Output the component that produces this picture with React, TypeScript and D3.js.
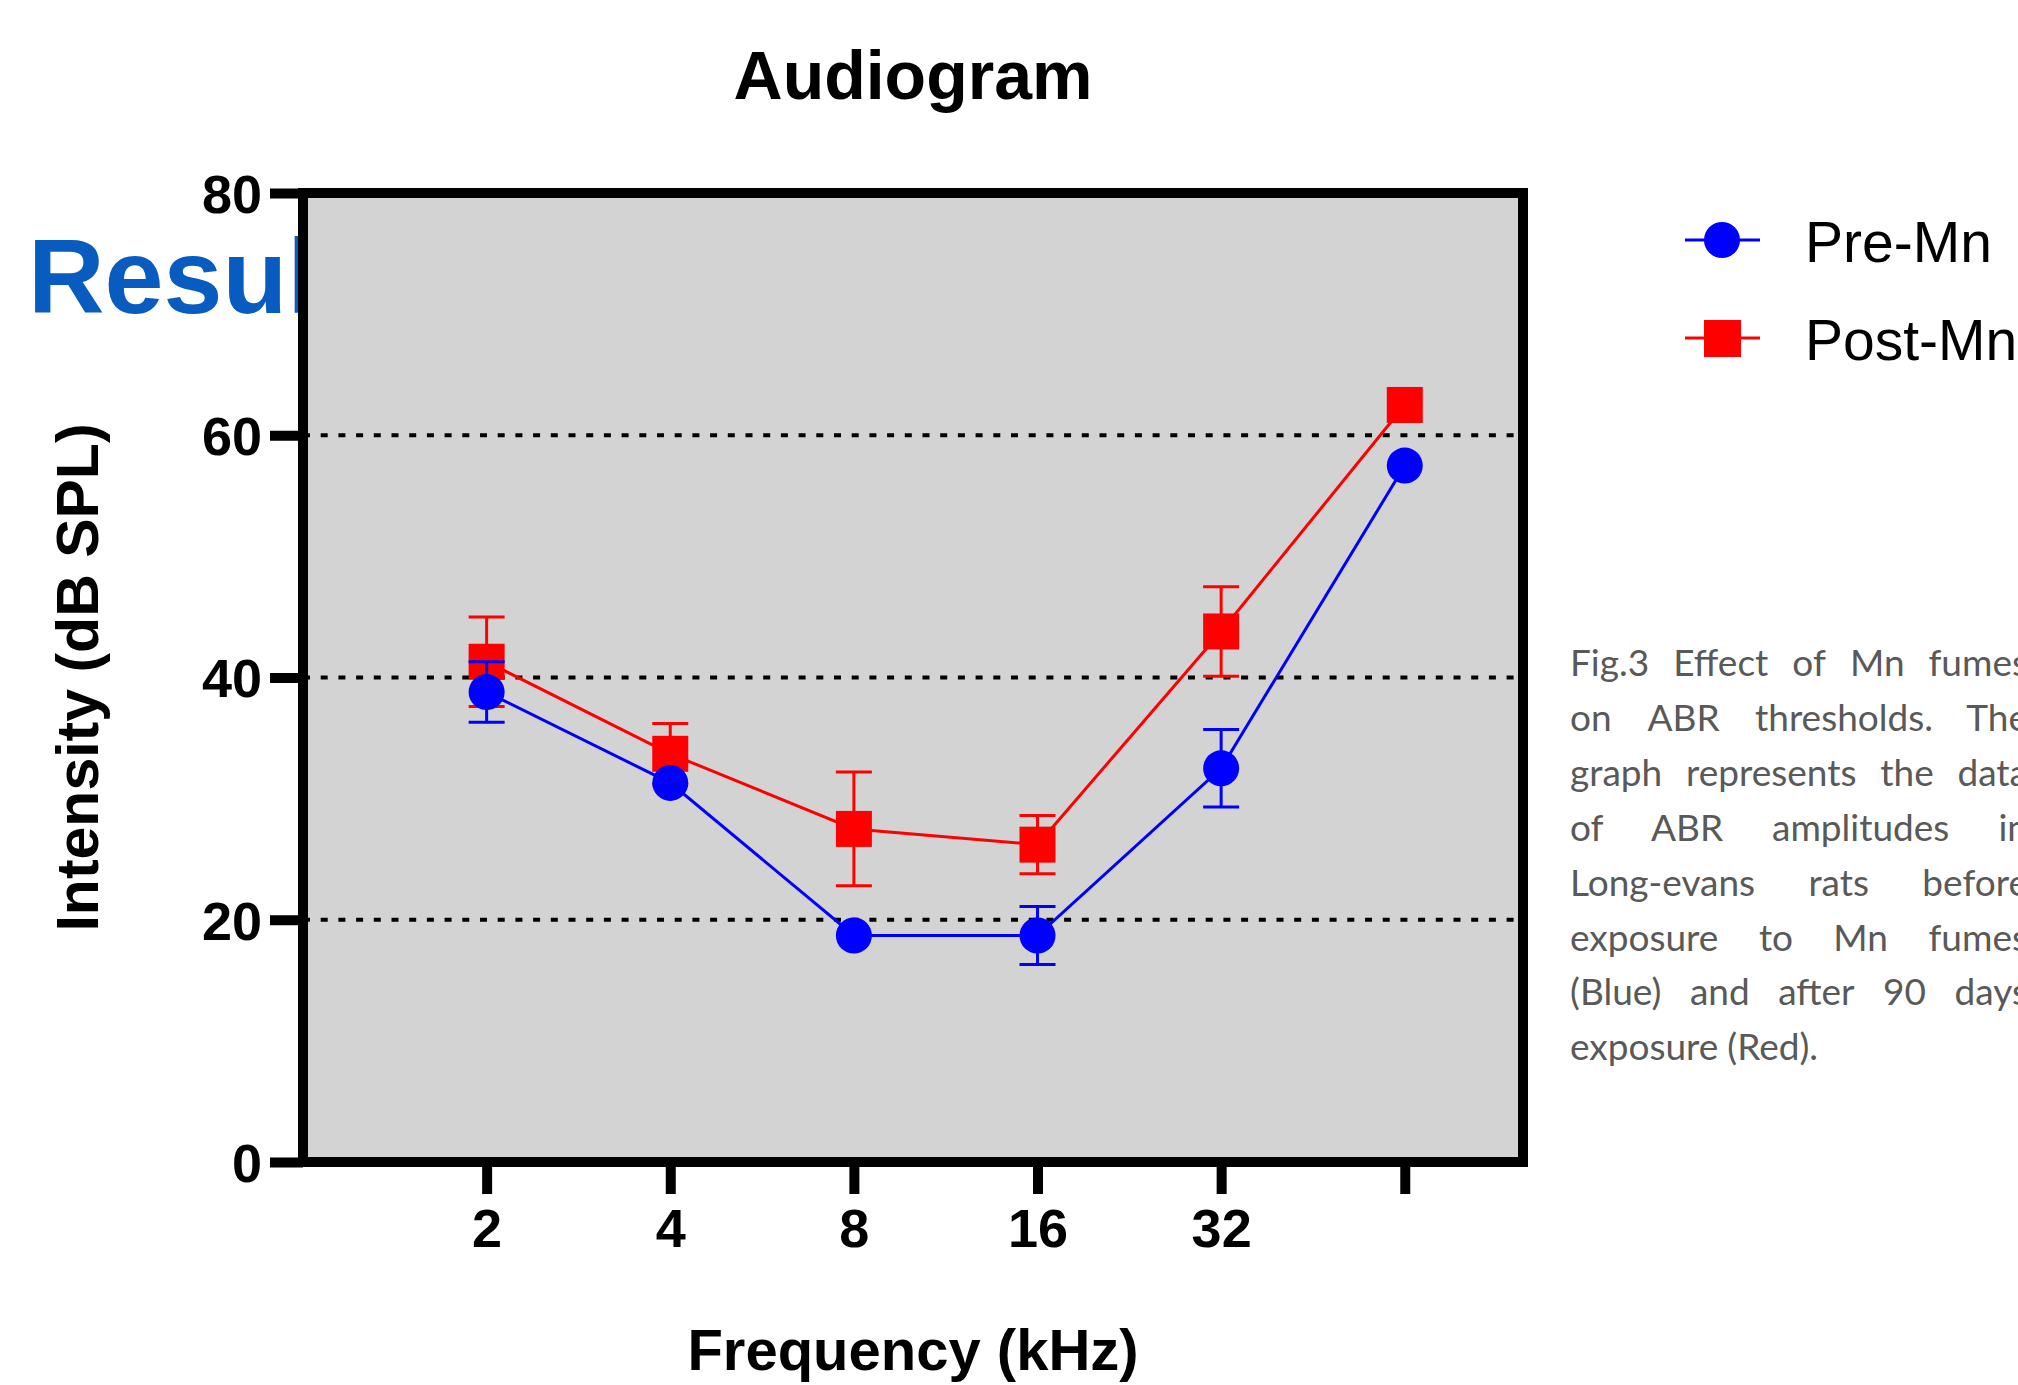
import React, { useRef, useEffect } from 'react'
import * as d3 from 'd3'

// values
const frequencies = [2, 4, 8, 16, 32, 64]
const xTickLabels = ['2', '4', '8', '16', '32', '']
const yTicks = [0, 20, 40, 60, 80]
const gridValues = [20, 40, 60]
const preMean = [38.8, 31.3, 18.7, 18.7, 32.5, 57.5]
const preErr = [2.5, 0, 0, 2.4, 3.2, 0]
const postMean = [41.3, 33.7, 27.5, 26.2, 43.8, 62.5]
const postErr = [3.7, 2.5, 4.7, 2.4, 3.7, 0]
const seriesNames = ['Pre-Mn', 'Post-Mn']
const seriesColors = ['#0000ff', '#ff0000']
const captionLines = [
    'Fig.3 Effect of Mn fumes',
    'on ABR thresholds. The',
    'graph represents the data',
    'of ABR amplitudes in',
    'Long-evans rats before',
    'exposure to Mn fumes',
    '(Blue) and after 90 days',
    'exposure (Red).',
]

const W = 2018
const H = 1385
const FONT = '"Liberation Sans", Arial, sans-serif'

export default function App() {
    const ref = useRef<SVGSVGElement>(null)
    const margin = { top: 193, right: 495, bottom: 223, left: 303 }

    useEffect(() => {
        const svg = d3.select(ref.current)
        svg.selectAll('*').remove()

        const x0 = margin.left
        const x1 = W - margin.right
        const y0 = margin.top
        const y1 = H - margin.bottom

        const x = d3.scaleLog().base(2).domain([1, 100]).range([x0, x1])
        const y = d3.scaleLinear().domain([0, 80]).range([y1, y0])

        // blue heading that sits behind the plot
        svg.append('text')
            .attr('x', 28)
            .attr('y', 313)
            .attr('font-family', FONT)
            .attr('font-weight', 'bold')
            .attr('font-size', 106)
            .attr('fill', '#085cbf')
            .text('Results')

        svg.append('rect')
            .attr('x', x0)
            .attr('y', y0)
            .attr('width', x1 - x0)
            .attr('height', y1 - y0)
            .attr('fill', '#d3d3d3')

        // dotted grid
        svg.append('g')
            .selectAll('line')
            .data(gridValues)
            .join('line')
            .attr('x1', x0)
            .attr('x2', x1 - 5)
            .attr('y1', (d) => y(d))
            .attr('y2', (d) => y(d))
            .attr('stroke', '#000')
            .attr('stroke-width', 4)
            .attr('stroke-dasharray', '7 10.7')

        // axes
        const yAxis = svg.append('g')
            .attr('transform', 'translate(' + x0 + ',0)')
            .call(d3.axisLeft(y).tickValues(yTicks).tickSize(33).tickPadding(8))
        yAxis.select('.domain').remove()
        yAxis.selectAll('line').attr('stroke-width', 10)
        yAxis.selectAll('text')
            .attr('font-family', FONT)
            .attr('font-weight', 'bold')
            .attr('font-size', 54)
            .attr('dy', '0.36em')

        const xAxis = svg.append('g')
            .attr('transform', 'translate(0,' + y1 + ')')
            .call(
                d3.axisBottom(x)
                    .tickValues(frequencies)
                    .tickFormat((d, i) => xTickLabels[i])
                    .tickSize(32)
                    .tickPadding(15)
            )
        xAxis.select('.domain').remove()
        xAxis.selectAll('line').attr('stroke-width', 10)
        xAxis.selectAll('text')
            .attr('font-family', FONT)
            .attr('font-weight', 'bold')
            .attr('font-size', 54)

        svg.append('rect')
            .attr('x', x0)
            .attr('y', y0)
            .attr('width', x1 - x0)
            .attr('height', y1 - y0)
            .attr('fill', 'none')
            .attr('stroke', '#000')
            .attr('stroke-width', 10)

        // series: red first so blue sits on top
        const series = [
            { name: seriesNames[1], color: seriesColors[1], mean: postMean, err: postErr, shape: 'square' },
            { name: seriesNames[0], color: seriesColors[0], mean: preMean, err: preErr, shape: 'circle' },
        ]
        const line = d3.line<number>()
            .x((d, i) => x(frequencies[i]))
            .y((d) => y(d))

        series.forEach((s) => {
            const g = svg.append('g')
            g.append('path')
                .attr('d', line(s.mean))
                .attr('fill', 'none')
                .attr('stroke', s.color)
                .attr('stroke-width', 3)

            const pts = s.mean.map((m, i) => ({ f: frequencies[i], m, e: s.err[i] }))
            const withErr = pts.filter((d) => d.e > 0)
            const eb = g.append('g').attr('stroke', s.color).attr('stroke-width', 3)
            eb.selectAll('.v')
                .data(withErr)
                .join('line')
                .attr('x1', (d) => x(d.f))
                .attr('x2', (d) => x(d.f))
                .attr('y1', (d) => y(d.m + d.e))
                .attr('y2', (d) => y(d.m - d.e))
            ;[1, -1].forEach((sign) => {
                eb.append('g')
                    .selectAll('line')
                    .data(withErr)
                    .join('line')
                    .attr('x1', (d) => x(d.f) - 18)
                    .attr('x2', (d) => x(d.f) + 18)
                    .attr('y1', (d) => y(d.m + sign * d.e))
                    .attr('y2', (d) => y(d.m + sign * d.e))
            })

            if (s.shape === 'circle') {
                g.append('g')
                    .selectAll('circle')
                    .data(pts)
                    .join('circle')
                    .attr('cx', (d) => x(d.f))
                    .attr('cy', (d) => y(d.m))
                    .attr('r', 18)
                    .attr('fill', s.color)
            } else {
                g.append('g')
                    .selectAll('rect')
                    .data(pts)
                    .join('rect')
                    .attr('x', (d) => x(d.f) - 18)
                    .attr('y', (d) => y(d.m) - 18)
                    .attr('width', 36)
                    .attr('height', 36)
                    .attr('fill', s.color)
            }
        })

        // titles
        svg.append('text')
            .attr('x', (x0 + x1) / 2)
            .attr('y', 99)
            .attr('text-anchor', 'middle')
            .attr('font-family', FONT)
            .attr('font-weight', 'bold')
            .attr('font-size', 68)
            .text('Audiogram')

        svg.append('text')
            .attr('x', (x0 + x1) / 2)
            .attr('y', 1370)
            .attr('text-anchor', 'middle')
            .attr('font-family', FONT)
            .attr('font-weight', 'bold')
            .attr('font-size', 58)
            .text('Frequency (kHz)')

        svg.append('text')
            .attr('transform', 'translate(98,' + (y0 + y1) / 2 + ') rotate(-90)')
            .attr('text-anchor', 'middle')
            .attr('font-family', FONT)
            .attr('font-weight', 'bold')
            .attr('font-size', 59)
            .text('Intensity (dB SPL)')

        // legend
        const legend = svg.append('g')
        seriesNames.forEach((name, i) => {
            const ly = 240 + i * 98
            const c = seriesColors[i]
            legend.append('line')
                .attr('x1', 1685).attr('x2', 1760)
                .attr('y1', ly).attr('y2', ly)
                .attr('stroke', c).attr('stroke-width', 3)
            if (i === 0) {
                legend.append('circle').attr('cx', 1722).attr('cy', ly).attr('r', 18).attr('fill', c)
            } else {
                legend.append('rect').attr('x', 1704).attr('y', ly - 18).attr('width', 37).attr('height', 37).attr('fill', c)
            }
            legend.append('text')
                .attr('x', 1805)
                .attr('y', ly + 22)
                .attr('font-family', FONT)
                .attr('font-size', 57)
                .text(name)
        })

        // justified caption
        const capLeft = 1570
        const capRight = 2028
        captionLines.forEach((ln, i) => {
            const t = svg.append('text')
                .attr('y', 676 + i * 54.9)
                .attr('font-family', 'Lato, "Open Sans", sans-serif')
                .attr('font-size', 37)
                .attr('fill', '#595959')
            const words = ln.split(' ')
            const spans = words.map((w) => t.append('tspan').text(w))
            const widths = spans.map((sp) => (sp.node() as SVGTSpanElement).getComputedTextLength())
            const total = d3.sum(widths)
            const last = i === captionLines.length - 1
            const gap = last || words.length < 2 ? 9 : Math.max(9, (capRight - capLeft - total) / (words.length - 1))
            let cx = capLeft
            spans.forEach((sp, k) => {
                sp.attr('x', cx)
                cx += widths[k] + gap
            })
        })
    }, [])

    return (
        <svg
            ref={ref}
            width={W}
            height={H}
            style={{ position: 'absolute', left: 0, top: 0, background: '#fff' }}
        ></svg>
    )
}
